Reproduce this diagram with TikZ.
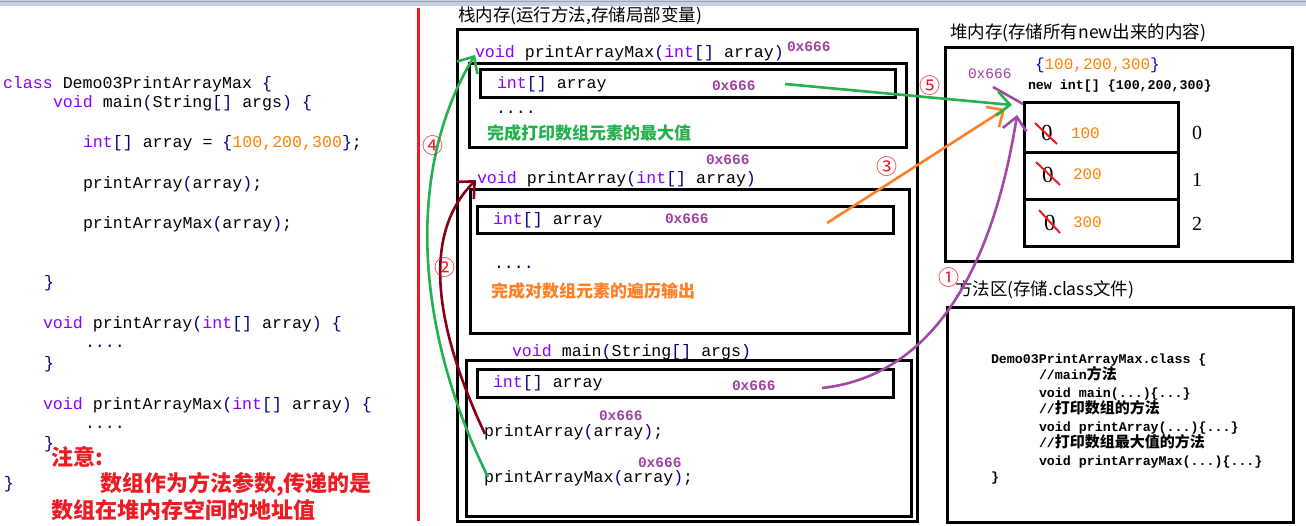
\documentclass[tikz,border=0pt]{standalone}
\usepackage{fontspec}
\setmainfont{Liberation Serif}
\newfontfamily\mono{Liberation Mono}
\newfontfamily\cjk{Noto Sans CJK SC}
\usetikzlibrary{arrows.meta}
\definecolor{cKw}{RGB}{136,0,255}
\definecolor{cNv}{RGB}{0,0,128}
\definecolor{cBr}{RGB}{0,0,200}
\definecolor{cNum}{RGB}{255,128,0}
\definecolor{cAddr}{RGB}{160,64,160}
\definecolor{cGreen}{RGB}{34,177,76}
\definecolor{cOrange}{RGB}{255,127,39}
\definecolor{cDred}{RGB}{136,0,21}
\definecolor{cPurple}{RGB}{163,73,164}
\definecolor{cRed}{RGB}{237,28,36}
\definecolor{cBand}{RGB}{200,208,224}
\definecolor{cBandLine}{RGB}{150,162,184}
\newcommand\kwd[1]{\textcolor{cKw}{#1}}
\newcommand\nvy[1]{\textcolor{cNv}{#1}}
\newcommand\onum[1]{\textcolor{cNum}{#1}}
\begin{document}
\begin{tikzpicture}[x=1pt,y=-1pt,
  every node/.style={inner sep=0pt,outer sep=0pt},
  code/.style={anchor=base west,font=\mono\fontsize{16.6}{20}\selectfont},
  addr/.style={anchor=base west,text=cAddr,font=\mono\bfseries\fontsize{14.5}{18}\selectfont},
  addrl/.style={anchor=base west,text=cAddr,font=\mono\fontsize{14.5}{18}\selectfont},
  scode/.style={anchor=base west,font=\mono\bfseries\fontsize{13.3}{16}\selectfont},
  title/.style={anchor=base west,font=\cjk\fontsize{17.5}{20}\selectfont},
  note/.style={anchor=base west,text=cRed,font=\cjk\bfseries\fontsize{22}{26}\selectfont},
  box/.style={draw,line width=3pt,anchor=north west},
  circ/.style={text=cRed,font=\cjk\fontsize{21}{22}\selectfont},
  idx/.style={anchor=base west,font=\fontsize{20}{22}\selectfont},
  zero/.style={anchor=base west,font=\fontsize{23}{24}\selectfont},
  val/.style={anchor=base west,text=cNum,font=\mono\fontsize{16}{18}\selectfont},
  strike/.style={cRed,line width=2pt},
  arrow/.style={line width=2.6pt,-{Straight Barb[length=13pt,width=24pt]}}
]
\useasboundingbox (0,0) rectangle (1306,526);
% top band and divider
\fill[cBand] (0,0) rectangle (1306,6);
\draw[cBandLine,line width=1.2pt] (0,1.5) -- (1306,1.5);
\coordinate (redTop) at (418.5,8);
\coordinate (redBot) at (418.5,521);
\draw[cRed,line width=3pt] (redTop) -- (redBot);

% ---------------- left source code ----------------
\node[code] (l1) at (3,89) {\kwd{class} Demo03PrintArrayMax \nvy{\{}};
\node[code] (l2) at (53,108) {\kwd{void} main\nvy{(}String\nvy{[]} args\nvy{)} \nvy{\{}};
\node[code] (l3) at (83,148) {\kwd{int}\nvy{[]} array = \nvy{\{}\onum{100,200,300}\nvy{\}};};
\node[code] (l4) at (83,189) {printArray\nvy{(}array\nvy{)};};
\node[code] (l5) at (83,229) {printArrayMax\nvy{(}array\nvy{)};};
\node[code] (l6) at (44,288) {\nvy{\}}};
\node[code] (l7) at (43,329) {\kwd{void} printArray\nvy{(}\kwd{int}\nvy{[]} array\nvy{)} \nvy{\{}};
\node[code] (l8) at (85,348) {\nvy{....}};
\node[code] (l9) at (44,368) {\nvy{\}}};
\node[code] (l10) at (43,409) {\kwd{void} printArrayMax\nvy{(}\kwd{int}\nvy{[]} array\nvy{)} \nvy{\{}};
\node[code] (l11) at (85,428) {\nvy{....}};
\node[code] (l12) at (44,448) {\nvy{\}}};
\node[code] (l13) at (4,488) {\nvy{\}}};
\node[note] (n1) at (51,465) {注意:};
\node[note] (n2) at (100,491) {数组作为方法参数,传递的是};
\node[note] (n3) at (51,518) {数组在堆内存空间的地址值};

% ---------------- stack ----------------
\node[title] (stackT) at (458,21.5) {栈内存(运行方法,存储局部变量)};
\node[box,minimum width=460pt,minimum height=491pt] (stack) at (457,30) {};
% printArrayMax frame
\node[code] (pamH) at (475,58) {\kwd{void} printArrayMax\nvy{(}\kwd{int}\nvy{[]} array\nvy{)}};
\node[addr] (pamA0) at (787,52) {0x666};
\node[box,minimum width=437pt,minimum height=84pt] (pamF) at (469,64) {};
\node[box,minimum width=415pt,minimum height=28pt] (pamV) at (480,70) {};
\node[code] (pamVt) at (497,89) {\kwd{int}\nvy{[]} array};
\node[addr] (pamVa) at (712,91) {0x666};
\node[code] (pamD) at (496,114) {\nvy{....}};
\node[title,text=cGreen,font=\cjk\bfseries\fontsize{17}{20}\selectfont] (pamTxt) at (487,139.5) {完成打印数组元素的最大值};
% printArray frame
\node[addr] (paA0) at (706,165) {0x666};
\node[code] (paH) at (477,184) {\kwd{void} printArray\nvy{(}\kwd{int}\nvy{[]} array\nvy{)}};
\node[box,minimum width=439pt,minimum height=144pt] (paF) at (470,190) {};
\node[box,minimum width=416pt,minimum height=27pt] (paV) at (477,207) {};
\node[code] (paVt) at (493,225) {\kwd{int}\nvy{[]} array};
\node[addr] (paVa) at (665,224) {0x666};
\node[code] (paD) at (494,269) {\nvy{....}};
\node[title,text=cOrange,font=\cjk\bfseries\fontsize{17}{20}\selectfont] (paTxt) at (491,297.5) {完成对数组元素的遍历输出};
% main frame
\node[code] (mH) at (512,357) {\kwd{void} main\nvy{(}String\nvy{[]} args\nvy{)}};
\node[box,minimum width=445pt,minimum height=155pt] (mF) at (466,361) {};
\node[box,minimum width=416pt,minimum height=27pt] (mV) at (477,370) {};
\node[code] (mVt) at (493,388) {\kwd{int}\nvy{[]} array};
\node[addr] (mVa) at (732,390) {0x666};
\node[addr] (mA1) at (599,420) {0x666};
\node[code] (mC1) at (484,436) {printArray\nvy{(}array\nvy{)};};
\node[addr] (mA2) at (638,467) {0x666};
\node[code] (mC2) at (484,482) {printArrayMax\nvy{(}array\nvy{)};};

% ---------------- heap ----------------
\node[title] (heapT) at (950,38.5) {堆内存(存储所有new出来的内容)};
\node[box,minimum width=347pt,minimum height=214pt] (heap) at (945,48) {};
\node[anchor=base west,font=\mono\fontsize{16}{18}\selectfont] (hInit) at (1035,70) {\textcolor{cBr}{\{}\onum{100,200,300}\textcolor{cBr}{\}}};
\node[addrl] (hAddr) at (968,79) {0x666};
\node[scode] (hNew) at (1028,90) {new int[] \{100,200,300\}};
\node[box,minimum width=154pt,minimum height=50pt] (cell0) at (1024,103) {};
\node[box,minimum width=154pt,minimum height=47pt] (cell1) at (1024,153) {};
\node[box,minimum width=154pt,minimum height=47pt] (cell2) at (1024,200) {};
\node[zero] (z0) at (1041,141) {0};
\node[zero] (z1) at (1042,183) {0};
\node[zero] (z2) at (1044,231) {0};
\node[val] (v0) at (1071,139) {100};
\node[val] (v1) at (1073,180) {200};
\node[val] (v2) at (1073,228) {300};
\coordinate (s0a) at (1035,123); \coordinate (s0b) at (1057,144);
\coordinate (s1a) at (1036,162); \coordinate (s1b) at (1060,185);
\coordinate (s2a) at (1039,210); \coordinate (s2b) at (1060,233);
\draw[strike] (s0a) -- (s0b);
\draw[strike] (s1a) -- (s1b);
\draw[strike] (s2a) -- (s2b);
\node[idx] (i0) at (1192,140) {0};
\node[idx] (i1) at (1192,187) {1};
\node[idx] (i2) at (1192,231) {2};

% ---------------- method area ----------------
\node[title] (methT) at (955,295.5) {方法区(存储.class文件)};
\node[box,minimum width=346pt,minimum height=214pt] (meth) at (947,308) {};
\node[scode] (m1) at (991,363) {Demo03PrintArrayMax.class \{};
\node[scode] (m2) at (1039,380) {//main{\cjk\bfseries\fontsize{15}{16}\selectfont 方法}};
\node[scode] (m3) at (1039,397) {void main(...)\{...\}};
\node[scode] (m4) at (1039,413) {//{\cjk\bfseries\fontsize{15}{16}\selectfont 打印数组的方法}};
\node[scode] (m5) at (1039,431) {void printArray(...)\{...\}};
\node[scode] (m6) at (1039,447) {//{\cjk\bfseries\fontsize{15}{16}\selectfont 打印数组最大值的方法}};
\node[scode] (m7) at (1039,465) {void printArrayMax(...)\{...\}};
\node[scode] (m8) at (991,481) {\}};

% ---------------- arrows ----------------
\coordinate (a1s) at (822,388);
\coordinate (a1e) at (1017,115);
\coordinate (a1x) at (993,87);
\coordinate (a1y) at (1023,104);
\coordinate (a2s) at (485,434);
\coordinate (a2e) at (476,180);
\coordinate (a3s) at (827,223);
\coordinate (a3e) at (1005,109);
\coordinate (a4s) at (488,477);
\coordinate (a4e) at (475,55);
\coordinate (a5s) at (785,84);
\coordinate (a5e) at (1012,105);
\draw[arrow,cPurple] (a1s) .. controls (940,375) and (995,255) .. (a1e);
\draw[cPurple,line width=2.6pt] (a1x) -- (a1y);
\draw[arrow,cDred] (a2s) .. controls (436,330) and (420,235) .. (a2e);
\draw[arrow,cOrange] (a3s) -- (a3e);
\draw[arrow,cGreen] (a4s) .. controls (415,330) and (405,170) .. (a4e);
\draw[arrow,cGreen] (a5s) -- (a5e);
\node[circ] (c1) at (949,278) {①};
\node[circ] (c2) at (445,268) {②};
\node[circ] (c3) at (887,167) {③};
\node[circ] (c4) at (433,146) {④};
\node[circ] (c5) at (930,86) {⑤};
\end{tikzpicture}
\end{document}
